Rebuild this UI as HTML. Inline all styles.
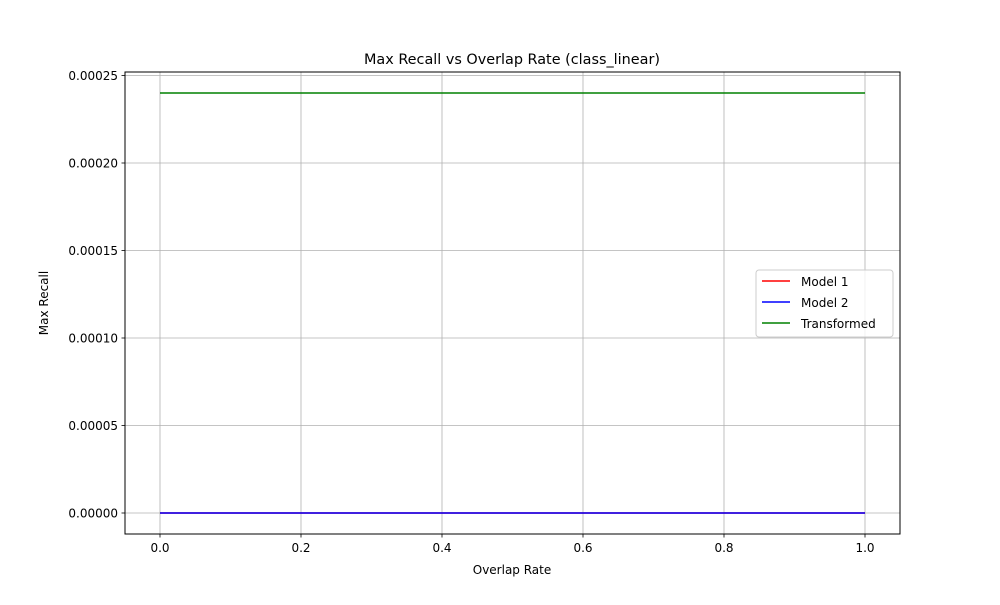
<!DOCTYPE html>
<html><head><meta charset="utf-8"><style>
body{margin:0;background:#fff;font-family:"Liberation Sans","DejaVu Sans",sans-serif;}
</style></head><body>
<svg id="chart" width="1000" height="600" xmlns="http://www.w3.org/2000/svg" font-family="DejaVu Sans, Liberation Sans, sans-serif">
<rect width="1000" height="600" fill="#fff"/>
<g id="grid"></g>
<g id="series"></g>
<rect x="125" y="72" width="775" height="462" fill="none" stroke="#000" stroke-width="1"/>
<g id="ticks"></g>
<text x="512" y="64" text-anchor="middle" font-size="14.4">Max Recall vs Overlap Rate (class_linear)</text>
<text x="512" y="574" text-anchor="middle" font-size="12">Overlap Rate</text>
<text transform="translate(48,303) rotate(-90)" text-anchor="middle" font-size="12">Max Recall</text>
<g>
<rect x="756" y="270" width="137" height="67" rx="3" fill="#fff" fill-opacity="0.8" stroke="#ccc"/>
<line x1="762" y1="281" x2="790" y2="281" stroke="red" stroke-width="1.5"/>
<text x="801" y="286" font-size="12">Model 1</text>
<line x1="762" y1="302" x2="790" y2="302" stroke="blue" stroke-width="1.5"/>
<text x="801" y="307" font-size="12">Model 2</text>
<line x1="762" y1="323" x2="790" y2="323" stroke="green" stroke-width="1.5"/>
<text x="801" y="328" font-size="12">Transformed</text>
</g>
</svg>
<script>
const xValues=[0,0.1,0.2,0.3,0.4,0.5,0.6,0.7,0.8,0.9,1.0];
const model1=[0,0,0,0,0,0,0,0,0,0,0];
const model2=[0,0,0,0,0,0,0,0,0,0,0];
const transformed=[0.00024,0.00024,0.00024,0.00024,0.00024,0.00024,0.00024,0.00024,0.00024,0.00024,0.00024];
const xTicks=[0,0.2,0.4,0.6,0.8,1.0];
const xTickLabels=["0.0","0.2","0.4","0.6","0.8","1.0"];
const yTicks=[0,0.00005,0.0001,0.00015,0.0002,0.00025];
const yTickLabels=["0.00000","0.00005","0.00010","0.00015","0.00020","0.00025"];
const NS="http://www.w3.org/2000/svg";
function xs(v){return 160+v*705;}
function ys(v){return 513-v*1750000;}
function mk(tag,attrs,parent){const e=document.createElementNS(NS,tag);for(const k in attrs)e.setAttribute(k,attrs[k]);parent.appendChild(e);return e;}
const grid=document.getElementById('grid'),ticks=document.getElementById('ticks'),series=document.getElementById('series');
xTicks.forEach((t,i)=>{const x=xs(t);
 const g=mk('line',{x1:x,x2:x,y1:72,y2:534,stroke:'#b0b0b0','stroke-width':0.8},grid);
 
 
 mk('line',{x1:x,x2:x,y1:534,y2:537.5,stroke:'#000','stroke-width':0.8},ticks);
 const tx=mk('text',{x:x,y:552,'text-anchor':'middle','font-size':12},ticks);tx.textContent=xTickLabels[i];
 
 });
yTicks.forEach((t,i)=>{const y=ys(t);
 const g=mk('line',{x1:125,x2:900,y1:y,y2:y,stroke:'#b0b0b0','stroke-width':0.8},grid);
 
 
 mk('line',{x1:121.5,x2:125,y1:y,y2:y,stroke:'#000','stroke-width':0.8},ticks);
 const tx=mk('text',{x:118,y:y+4.5,'text-anchor':'end','font-size':12},ticks);tx.textContent=yTickLabels[i];
 
 });
[[model1,'red','model-1-line'],[model2,'blue','model-2-line'],[transformed,'green','transformed-line']].forEach(([d,c,n])=>{
 const p=mk('polyline',{points:d.map((v,i)=>xs(xValues[i])+','+ys(v)).join(' '),fill:'none',stroke:c,'stroke-width':1.5},series);
 
 });
</script>
</body></html>
